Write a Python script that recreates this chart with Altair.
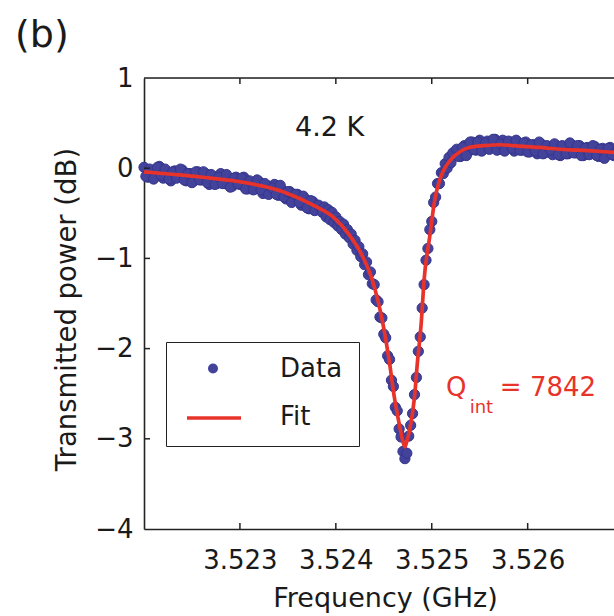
import altair as alt
import pandas as pd

# ---------------- data ----------------
# measured points, left shoulder (GHz, dB) - two interleaved sweeps of the band
left_f = [3.52200, 3.52204, 3.52208, 3.52212, 3.52216, 3.52220, 3.52224, 3.52228, 3.52232, 3.52236,
          3.52240, 3.52244, 3.52248, 3.52252, 3.52256, 3.52260, 3.52264, 3.52268, 3.52272, 3.52276,
          3.52280, 3.52284, 3.52288, 3.52292, 3.52296, 3.52300, 3.52304, 3.52308, 3.52312, 3.52316,
          3.52320, 3.52324, 3.52328, 3.52332, 3.52336, 3.52340, 3.52344, 3.52348, 3.52352, 3.52356,
          3.52360, 3.52364, 3.52368, 3.52372, 3.52376, 3.52380, 3.52384]
left_v = [0.01, -0.10, -0.03, -0.09, 0.02, -0.11, -0.05, -0.14, -0.03, -0.09,
          -0.02, -0.14, -0.06, -0.14, -0.04, -0.13, -0.06, -0.18, -0.09, -0.17,
          -0.06, -0.17, -0.12, -0.20, -0.10, -0.18, -0.10, -0.23, -0.16, -0.23,
          -0.15, -0.28, -0.19, -0.26, -0.18, -0.30, -0.24, -0.34, -0.26, -0.36,
          -0.29, -0.41, -0.34, -0.45, -0.37, -0.46, -0.44]
left2_f = [3.52202, 3.52206, 3.52210, 3.52214, 3.52218, 3.52222, 3.52226, 3.52230, 3.52234, 3.52238,
           3.52242, 3.52246, 3.52250, 3.52254, 3.52258, 3.52262, 3.52266, 3.52270, 3.52274, 3.52278,
           3.52282, 3.52286, 3.52290, 3.52294, 3.52298, 3.52302, 3.52306, 3.52310, 3.52314, 3.52318,
           3.52322, 3.52326, 3.52330, 3.52334, 3.52338, 3.52342, 3.52346, 3.52350, 3.52354, 3.52358,
           3.52362, 3.52366, 3.52370, 3.52374, 3.52378, 3.52382, 3.52386]
left2_v = [-0.09, -0.01, -0.12, 0.01, -0.08, -0.01, -0.12, -0.04, -0.11, -0.01,
           -0.13, -0.06, -0.16, -0.04, -0.13, -0.04, -0.16, -0.07, -0.18, -0.10,
           -0.17, -0.07, -0.21, -0.11, -0.17, -0.11, -0.23, -0.14, -0.24, -0.13,
           -0.24, -0.17, -0.29, -0.22, -0.29, -0.19, -0.32, -0.26, -0.38, -0.29,
           -0.38, -0.31, -0.44, -0.36, -0.47, -0.41, -0.49]

# measured points, resonance dip
dip_f = [3.52388, 3.52390, 3.52392, 3.52394, 3.52396, 3.52398, 3.52400, 3.52402, 3.52404, 3.52406,
         3.52408, 3.52410, 3.52412, 3.52414, 3.52416, 3.52418, 3.52420, 3.52422, 3.52424, 3.52426,
         3.52428, 3.52430, 3.52432, 3.52434, 3.52436, 3.52438, 3.52440, 3.52442, 3.52444, 3.52446,
         3.52448, 3.52450, 3.52452, 3.52454, 3.52456, 3.52458, 3.52460, 3.52462, 3.52464, 3.52466,
         3.52468, 3.52470, 3.52472, 3.52474, 3.52476, 3.52478, 3.52480, 3.52482, 3.52484, 3.52486,
         3.52488, 3.52490, 3.52492, 3.52494, 3.52496, 3.52498, 3.52500, 3.52502, 3.52504, 3.52506,
         3.52508, 3.52510, 3.52512, 3.52514, 3.52516, 3.52518, 3.52520, 3.52522]
dip_v = [-0.43, -0.54, -0.46, -0.57, -0.49, -0.60, -0.54, -0.64, -0.59, -0.68,
         -0.62, -0.73, -0.68, -0.77, -0.73, -0.84, -0.80, -0.91, -0.87, -0.98,
         -0.95, -1.07, -1.04, -1.18, -1.15, -1.28, -1.29, -1.46, -1.48, -1.65,
         -1.66, -1.84, -1.88, -2.08, -2.12, -2.35, -2.42, -2.65, -2.69, -2.89,
         -2.98, -3.14, -3.22, -3.16, -2.97, -2.85, -2.72, -2.51, -2.32, -2.03,
         -1.87, -1.55, -1.29, -1.02, -0.89, -0.68, -0.59, -0.38, -0.32, -0.17,
         -0.17, -0.05, -0.06, 0.05, 0.00, 0.12, 0.06, 0.17]

# measured points, right shoulder - two interleaved sweeps of the band
right_f = [3.52526, 3.52530, 3.52534, 3.52538, 3.52542, 3.52546, 3.52550, 3.52554, 3.52558, 3.52562,
           3.52566, 3.52570, 3.52574, 3.52578, 3.52582, 3.52586, 3.52590, 3.52594, 3.52598, 3.52602,
           3.52606, 3.52610, 3.52614, 3.52618, 3.52622, 3.52626, 3.52630, 3.52634, 3.52638, 3.52642,
           3.52646, 3.52650, 3.52654, 3.52658, 3.52662, 3.52666, 3.52670, 3.52674, 3.52678, 3.52682,
           3.52686, 3.52690]
right_v = [0.21, 0.13, 0.25, 0.18, 0.29, 0.20, 0.31, 0.21, 0.30, 0.24,
           0.32, 0.21, 0.31, 0.23, 0.29, 0.19, 0.28, 0.20, 0.29, 0.18,
           0.26, 0.16, 0.27, 0.17, 0.24, 0.15, 0.25, 0.14, 0.23, 0.16,
           0.26, 0.17, 0.25, 0.14, 0.23, 0.16, 0.24, 0.13, 0.22, 0.15,
           0.23, 0.14]
right2_f = [3.52528, 3.52532, 3.52536, 3.52540, 3.52544, 3.52548, 3.52552, 3.52556, 3.52560, 3.52564,
            3.52568, 3.52572, 3.52576, 3.52580, 3.52584, 3.52588, 3.52592, 3.52596, 3.52600, 3.52604,
            3.52608, 3.52612, 3.52616, 3.52620, 3.52624, 3.52628, 3.52632, 3.52636, 3.52640, 3.52644,
            3.52648, 3.52652, 3.52656, 3.52660, 3.52664, 3.52668, 3.52672, 3.52676, 3.52680, 3.52684,
            3.52688]
right2_v = [0.13, 0.23, 0.14, 0.29, 0.21, 0.29, 0.19, 0.28, 0.21, 0.32,
            0.20, 0.27, 0.19, 0.30, 0.22, 0.31, 0.20, 0.28, 0.18, 0.26,
            0.19, 0.29, 0.16, 0.25, 0.20, 0.27, 0.15, 0.25, 0.16, 0.28,
            0.17, 0.25, 0.14, 0.22, 0.15, 0.25, 0.14, 0.21, 0.11, 0.22,
            0.15]

# fitted curve
fit_f = [3.52200, 3.52232, 3.52261, 3.52300, 3.52345, 3.52380, 3.52397, 3.52414, 3.52428, 3.52438,
         3.52449, 3.52456, 3.52461, 3.52466, 3.52470, 3.52472, 3.52474, 3.52477, 3.52482, 3.52485,
         3.52489, 3.52492, 3.52498, 3.52503, 3.52508, 3.52513, 3.52522, 3.52529, 3.52539, 3.52555,
         3.52571, 3.52591, 3.52612, 3.52633, 3.52654, 3.52675, 3.52690]
fit_v = [-0.04, -0.07, -0.10, -0.15, -0.26, -0.43, -0.54, -0.74, -0.98, -1.24,
         -1.72, -2.16, -2.54, -2.83, -3.03, -3.09, -3.03, -2.90, -2.54, -2.16,
         -1.72, -1.24, -0.75, -0.36, -0.14, -0.01, 0.12, 0.18, 0.23, 0.25,
         0.26, 0.245, 0.23, 0.21, 0.20, 0.185, 0.175]

x_ticks = [3.523, 3.524, 3.525, 3.526]
y_ticks = [-4, -3, -2, -1, 0, 1]
y_inner_ticks = [-3, -2, -1, 0]
series_names = ["Data", "Fit"]

# annotations (anchored in data coordinates)
temp_label = ["4.2 K"]
temp_f = [3.523936]
temp_v = [0.357]
q_main = ["Q", "= 7842"]
q_main_f = [3.525148, 3.525710]
q_main_v = [-2.526, -2.526]
q_sub = ["int"]
q_sub_f = [3.525395]
q_sub_v = [-2.715]

# ---------------- chart ----------------
FONT = "DejaVu Sans"
BLUE_FILL = "#43439c"
BLUE_EDGE = "#35358c"
RED = "#e8332a"
INK = "#1a1a1a"
W, H = 470, 451

data_df = pd.DataFrame({"f": left_f + left2_f + dip_f + right_f + right2_f,
                        "v": left_v + left2_v + dip_v + right_v + right2_v})
data_df["series"] = "Data"
fit_df = pd.DataFrame({"f": fit_f, "v": fit_v})
fit_df["series"] = "Fit"

xscale = alt.Scale(domain=[3.522, 3.5269], nice=False, zero=False)
yscale = alt.Scale(domain=[-4, 1], nice=False, zero=False)

xaxis = alt.Axis(values=x_ticks, format=".3f", title="Frequency (GHz)",
                 labelFont=FONT, labelFontSize=26, labelColor=INK, labelPadding=18,
                 ticks=False, tickSize=0, grid=False, domainColor="#222222", domainWidth=1.6,
                 titleFont=FONT, titleFontSize=27, titleFontWeight="normal", titleColor=INK,
                 titleX=241, titleY=77, titleBaseline="alphabetic", titleAlign="center",
                 labelFlush=False, labelOverlap=False)
yaxis = alt.Axis(values=y_ticks, format="d", title="Transmitted power (dB)",
                 labelFont=FONT, labelFontSize=26, labelColor=INK, labelPadding=11,
                 ticks=False, tickSize=0, grid=False, domainColor="#222222", domainWidth=1.6,
                 titleFont=FONT, titleFontSize=27.5, titleFontWeight="normal", titleColor=INK,
                 titleX=-69, titleY=231, titleBaseline="alphabetic", titleAlign="center",
                 titleAngle=270, labelFlush=False, labelOverlap=False)

# boxed legend: lists both entries; the "Fit" symbol is invisible here and the
# red line sample is supplied by the line layer's own legend placed on top of it
box_legend = alt.Legend(
    title=None, orient="none", legendX=22, legendY=264, zindex=0,
    fillColor="white", strokeColor="#222222", padding=16,
    symbolType="circle", symbolSize=100, symbolOffset=18, symbolStrokeWidth=0,
    clipHeight=21, rowPadding=21, labelOffset=54,
    labelFont=FONT, labelFontSize=26, labelColor=INK, symbolOpacity=1,
)
line_legend = alt.Legend(
    title=None, orient="none", legendX=41, legendY=329.5, zindex=1,
    padding=0, symbolType="stroke", symbolSize=2916, symbolStrokeWidth=3.5,
    clipHeight=21, labelFontSize=1, labelColor="transparent", labelOffset=0,
)

points = alt.Chart(data_df).mark_point(
    filled=True, size=105, stroke=BLUE_EDGE, strokeWidth=1.0, opacity=1
).encode(
    x=alt.X("f:Q", scale=xscale, axis=xaxis),
    y=alt.Y("v:Q", scale=yscale, axis=yaxis),
    fill=alt.Fill("series:N",
                  scale=alt.Scale(domain=series_names, range=[BLUE_FILL, "rgba(255,255,255,0)"]),
                  legend=box_legend),
)

line = alt.Chart(fit_df).mark_line(strokeWidth=3.7, interpolate="monotone").encode(
    x=alt.X("f:Q", scale=xscale),
    y=alt.Y("v:Q", scale=yscale),
    color=alt.Color("series:N", scale=alt.Scale(domain=["Fit"], range=[RED]),
                    legend=line_legend),
)

tick_x_df = pd.DataFrame({"f": x_ticks})
tick_y_df = pd.DataFrame({"v": y_inner_ticks})
top_ticks = alt.Chart(tick_x_df).mark_rule(color="#222222", strokeWidth=1.5).encode(
    x=alt.X("f:Q", scale=xscale), y=alt.value(0), y2=alt.value(6))
bottom_ticks = alt.Chart(tick_x_df).mark_rule(color="#222222", strokeWidth=1.5).encode(
    x=alt.X("f:Q", scale=xscale), y=alt.value(H - 6), y2=alt.value(H))
left_ticks = alt.Chart(tick_y_df).mark_rule(color="#222222", strokeWidth=1.5).encode(
    y=alt.Y("v:Q", scale=yscale), x=alt.value(0), x2=alt.value(6))
top_frame = alt.Chart(pd.DataFrame({"f": [3.522]})).mark_rule(
    color="#222222", strokeWidth=1.6).encode(
    x=alt.value(0), x2=alt.value(W), y=alt.value(0))

temp_txt = alt.Chart(pd.DataFrame({"f": temp_f, "v": temp_v, "t": temp_label})).mark_text(
    font=FONT, fontSize=27, color=INK, align="center", baseline="alphabetic").encode(
    x=alt.X("f:Q", scale=xscale), y=alt.Y("v:Q", scale=yscale), text="t:N")
q_txt = alt.Chart(pd.DataFrame({"f": q_main_f, "v": q_main_v, "t": q_main})).mark_text(
    font=FONT, fontSize=26, color=RED, align="left", baseline="alphabetic").encode(
    x=alt.X("f:Q", scale=xscale), y=alt.Y("v:Q", scale=yscale), text="t:N")
q_sub_txt = alt.Chart(pd.DataFrame({"f": q_sub_f, "v": q_sub_v, "t": q_sub})).mark_text(
    font=FONT, fontSize=18, color=RED, align="left", baseline="alphabetic").encode(
    x=alt.X("f:Q", scale=xscale), y=alt.Y("v:Q", scale=yscale), text="t:N")

chart = alt.layer(
    points, line, top_frame, top_ticks, bottom_ticks, left_ticks, temp_txt, q_txt, q_sub_txt
).resolve_scale(
    color="independent", fill="independent"
).properties(
    width=W, height=H,
    autosize=alt.AutoSizeParams(type="none"),
    padding={"left": 144, "top": 78, "right": 0, "bottom": 87},
    title=alt.TitleParams(text="(b)", anchor="start", frame="group", orient="top",
                          font=FONT, fontSize=38, fontWeight="normal", color=INK,
                          baseline="alphabetic", dx=-129, dy=38, offset=18),
).configure_view(stroke=None).configure(background="white")

chart.save("out.html", embed_options={"renderer": "svg", "actions": False})
